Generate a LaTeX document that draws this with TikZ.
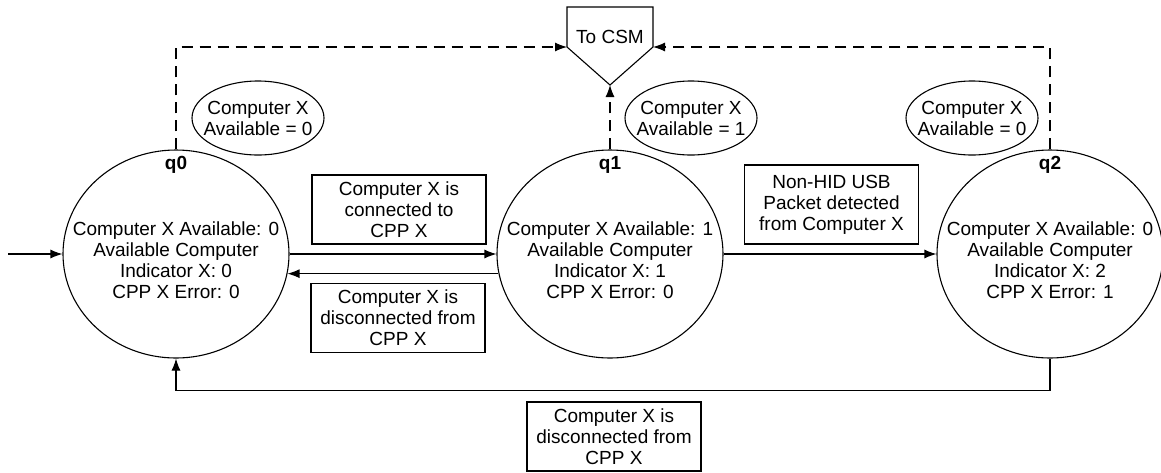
\documentclass[tikz,border=0pt]{standalone}
\usepackage{fontspec}
\setmainfont{Liberation Sans}
\usetikzlibrary{shapes.geometric,positioning,arrows.meta}
\tikzset{
  state/.style={draw,ellipse,line width=1.1pt,minimum width=226pt,minimum height=208pt,inner sep=0pt},
  cond/.style={draw,ellipse,line width=1.1pt,minimum width=132pt,minimum height=74pt,inner sep=0pt},
  txt/.style={inner sep=0pt,align=center},
  event/.style={draw,rectangle,line width=1.1pt,minimum width=174pt,minimum height=69pt,inner sep=0pt,align=center},
  tr/.style={line width=1.1pt,-{Latex[length=12pt,width=9pt]}},
  tocsm/.style={tr,dash pattern=on 11pt off 7pt}
}
\begin{document}
\begin{tikzpicture}[x=1pt,y=-1pt,font=\fontsize{19}{21}\selectfont]
  \def\sy{254}
  \def\cy{118}
  \useasboundingbox (0,0) rectangle (1161,472);

  \foreach \x/\n/\a/\i/\e/\cx in {176/0/0/0/0/258,610/1/1/1/0/691,1050/2/0/2/1/972} {
    \node[state] (q\n) at (\x,\sy) {};
    \node[txt] (t\n) at ([yshift=-6pt]q\n.center) {Computer X Available: \a\\Available Computer\\Indicator X: \i\\CPP X Error: \e};
    \node[txt,font=\fontsize{19}{21}\selectfont\bfseries,below=7pt of q\n.north] (lq\n) {q\n};
    \node[cond] (c\n) at (\cx,\cy) {};
    \node[txt] (ct\n) at (c\n.center) {Computer X\\Available = \a};
  }

  \coordinate (csmL) at (567,47);
  \coordinate (csmR) at (653,47);
  \coordinate (csmT) at (610,85);
  \draw[line width=1.1pt] (567,7) -- (653,7) -- (csmR) -- (csmT) -- (csmL) -- cycle;
  \node (csm) at (610,37) {To CSM};

  \draw[tocsm] (q0.north) |- (csmL);
  \draw[tocsm] (q2.north) |- (csmR);
  \draw[tocsm] (q1.north) -- (csmT);

  \node[event] (e01) at (399,209.5) {Computer X is\\connected to\\CPP X};
  \node[event] (e10) at (398,318) {Computer X is\\disconnected from\\CPP X};
  \node[event,minimum height=79pt] (e12) at (831.5,204.5) {Non-HID USB\\Packet detected\\from Computer X};
  \node[event] (e20) at (614,436.5) {Computer X is\\disconnected from\\CPP X};

  \coordinate (start) at (8,\sy);
  \draw[tr] (start) -- (q0.west);
  \draw[tr] (q0.east) -- (q1.west);
  \draw[tr] (q1.190) -- (q0.350);
  \draw[tr] (q1.east) -- (q2.west);
  \draw[tr] (q2.south) -- ++(0,32) -| (q0.south);
\end{tikzpicture}
\end{document}
